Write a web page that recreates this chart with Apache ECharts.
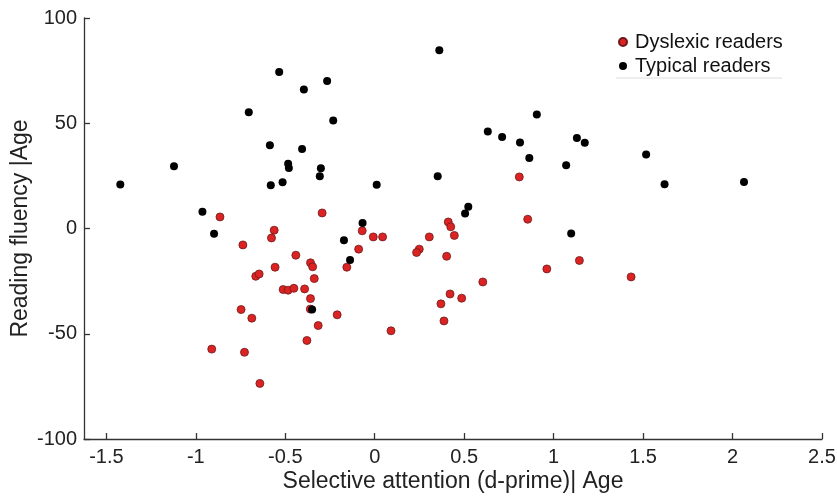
<!DOCTYPE html>
<html>
<head>
<meta charset="utf-8">
<script src="https://cdn.jsdelivr.net/npm/echarts@6/dist/echarts.min.js"></script>
<style>
html,body{margin:0;padding:0;background:#fff;}
#chart{width:837px;height:501px;}
</style>
</head>
<body>
<div id="chart"></div>
<script>
// Data
const dyslexicX = [-0.865,-0.294,-0.562,-0.577,-0.737,-0.070,-0.008,0.044,-0.090,-0.441,-0.359,-0.347,-0.557,-0.156,-0.665,-0.646,-0.338,-0.512,-0.484,-0.452,-0.392,-0.359,-0.360,-0.210,-0.316,0.091,-0.379,-0.747,-0.687,-0.911,-0.728,-0.642,0.808,0.855,0.411,0.425,0.445,0.305,0.249,0.234,0.402,0.962,1.144,1.433,0.604,0.421,0.486,0.370,0.387];
const dyslexicY = [5.5,7.4,-0.8,-4.5,-7.8,-1.1,-4.0,-4.0,-9.8,-12.7,-16.3,-18.2,-18.4,-18.4,-22.7,-21.6,-23.8,-29.0,-29.3,-28.4,-28.7,-33.3,-38.3,-41.0,-46.1,-48.6,-53.2,-38.5,-42.6,-57.3,-58.8,-73.6,24.5,4.4,3.1,0.8,-3.3,-4.0,-9.8,-11.4,-13.2,-19.2,-15.2,-23.0,-25.4,-31.1,-33.1,-35.8,-43.9];
const typicalX = [-1.422,-1.122,-0.963,-0.898,-0.586,-0.406,-0.484,-0.480,-0.301,-0.307,-0.581,-0.515,0.011,-0.068,-0.172,-0.138,-0.350,0.361,0.906,0.632,0.712,0.812,1.130,1.174,0.864,1.070,1.517,1.620,2.064,0.352,0.523,0.505,1.098,-0.534,-0.266,-0.396,-0.704,-0.232];
const typicalY = [20.9,29.6,7.9,-2.5,39.6,37.8,30.8,28.8,28.6,24.8,20.6,22.0,20.8,2.6,-5.6,-15.0,-38.5,84.7,54.2,46.1,43.5,40.9,43.0,40.7,33.5,30.1,35.2,21.0,22.1,24.8,10.3,7.1,-2.4,74.4,70.1,66.0,55.2,51.3];
const xTicks = [-1.5,-1,-0.5,0,0.5,1,1.5,2,2.5];
const yTicks = [-100,-50,0,50,100];
const seriesNames = ['Dyslexic readers','Typical readers'];
const xTitle = 'Selective attention (d-prime)| Age';
const yTitle = 'Reading fluency |Age';

const zip = (a,b) => a.map((v,i)=>[v,b[i]]);
const font = 'Liberation Sans, Arial, Helvetica, sans-serif';
const chart = echarts.init(document.getElementById('chart'));
chart.setOption({
  animation:false,
  backgroundColor:'#fff',
  grid:{left:84,right:15,top:18,bottom:62,containLabel:false,outerBoundsMode:'none'},
  legend:{
    orient:'vertical', left:613, top:27, itemWidth:8, itemHeight:8, itemGap:4,
    icon:'circle',
    textStyle:{fontFamily:font,fontSize:20,color:'#111',padding:[0,0,0,3]},
    data:seriesNames
  },
  xAxis:{
    type:'value', min:-1.625, max:2.5,
    name:xTitle, nameLocation:'middle', nameGap:31, nameMoveOverlap:false,
    nameTextStyle:{fontFamily:font,fontSize:23,color:'#222'},
    axisLine:{show:true,onZero:false,lineStyle:{color:'#333',width:1.3}},
    axisTick:{show:true,inside:true,length:6,customValues:xTicks,lineStyle:{color:'#333',width:1.3}},
    axisLabel:{customValues:xTicks,fontFamily:font,fontSize:20,color:'#222',margin:8},
    splitLine:{show:false}
  },
  yAxis:{
    type:'value', min:yTicks[0], max:yTicks[yTicks.length-1], interval:50,
    name:yTitle, nameLocation:'middle', nameGap:52, nameMoveOverlap:false,
    nameTextStyle:{fontFamily:font,fontSize:23,color:'#222'},
    axisLine:{show:true,onZero:false,lineStyle:{color:'#333',width:1.3}},
    axisTick:{show:true,inside:true,length:6,lineStyle:{color:'#333',width:1.3}},
    axisLabel:{fontFamily:font,fontSize:20,color:'#222',margin:7},
    splitLine:{show:false}
  },
  graphic:[{type:'line',shape:{x1:616,y1:78,x2:782,y2:78},style:{stroke:'#ddd',lineWidth:1}}],
  series:[
    {name:seriesNames[0],type:'scatter',symbolSize:8,data:zip(dyslexicX,dyslexicY),
     itemStyle:{color:'#dc2323',borderColor:'#6e1a1a',borderWidth:0.8,opacity:1}},
    {name:seriesNames[1],type:'scatter',symbolSize:8,data:zip(typicalX,typicalY),
     itemStyle:{color:'#000',opacity:1}}
  ]
});
</script>
</body>
</html>
